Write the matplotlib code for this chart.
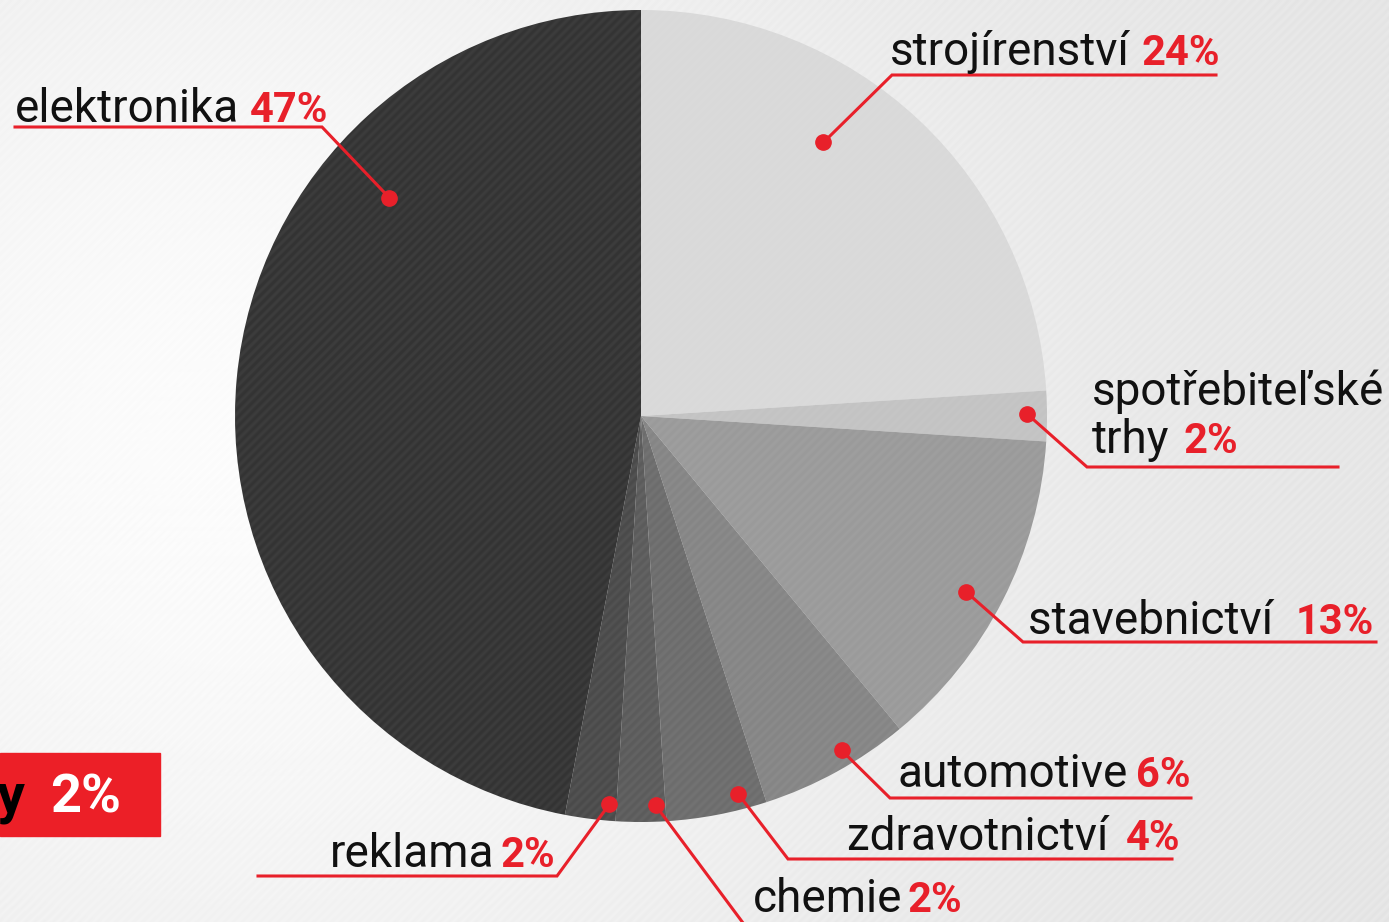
import numpy as np
import matplotlib
matplotlib.use('Agg')
import matplotlib.pyplot as plt
from matplotlib.patches import Rectangle

# Shares of the pie, in drawing order (clockwise from the top).
names = ['strojírenství', 'spotřebiteľské\ntrhy', 'stavebnictví ', 'automotive',
         'zdravotnictví ', 'chemie', 'reklama', 'elektronika']
shares = [24, 2, 13, 6, 4, 2, 2, 47]
pct_labels = ['24%', '2%', '13%', '6%', '4%', '2%', '2%', '47%']
greys = ['#d9d9d9', '#c3c3c3', '#9a9a9a', '#858585', '#6c6c6c', '#5b5b5b', '#4a4a4a', '#333333']

RED = '#e8202a'
FONT = 'Roboto'
FS = 33
FS_PCT = 30

W, H = 1389, 922
fig = plt.figure(figsize=(W / 100, H / 100), dpi=100)
ax = fig.add_axes([0, 0, 1, 1])

# Background: light grey with a soft light spot and fine diagonal stripes.
yy, xx = np.mgrid[0:H, 0:W]
glow = np.exp(-(((xx - 250) / 700.0) ** 2 + ((yy - 450) / 650.0) ** 2))
bg = 0.905 + 0.085 * glow
stripes = 0.5 + 0.5 * np.sin((xx + yy) * 2 * np.pi / 9.0)
bg = bg - 0.018 * stripes * (1 - 0.6 * glow)
ax.imshow(np.clip(bg, 0, 1), cmap='gray', vmin=0, vmax=1, extent=(0, W, H, 0), zorder=0)

# The pie (y axis is flipped, so counterclock in data = clockwise on screen).
cx, cy, R = 641, 416, 406
wedges, _ = ax.pie(shares, colors=greys, startangle=-90, counterclock=True,
                   center=(cx, cy), radius=R, frame=True,
                   wedgeprops=dict(linewidth=0, zorder=2))

# Stripe texture over the pie.
mask_img = np.zeros((H, W, 4))
mask_img[..., :3] = 1.0
mask_img[..., 3] = 0.05 * stripes
ov = ax.imshow(mask_img, extent=(0, W, H, 0), zorder=3)
circ = plt.Circle((cx, cy), R, transform=ax.transData)
ov.set_clip_path(circ)

# Dot placement inside each wedge (fraction along the wedge, fraction of radius).
dot_pos = [(0.39, 0.81), (0.45, 0.95), (0.53, 0.91), (0.40, 0.96),
           (0.25, 0.96), (0.20, 0.96), (0.15, 0.96), (0.71, 0.82)]
# Leader elbow, underline end, text left x, text baseline, percentage right x.
layout = [
    dict(elbow=(892, 75), end=1216, tx=890, ty=65, px=1220),
    dict(elbow=(1087, 467), end=1338, tx=1092, ty=453, px=1238),
    dict(elbow=(1023, 642), end=1376, tx=1028, ty=634, px=1374),
    dict(elbow=(890, 798), end=1191, tx=897, ty=787, px=1191),
    dict(elbow=(788, 859), end=1172, tx=847, ty=850, px=1180),
    dict(elbow=(752, 935), end=1000, tx=753, ty=912, px=962),
    dict(elbow=(557, 876), end=258, tx=330, ty=867, px=555),
    dict(elbow=(322, 127), end=15, tx=15, ty=122, px=328),
]

for w, (f, rr), lay, name, pct in zip(wedges, dot_pos, layout, names, pct_labels):
    ang = np.deg2rad(w.theta1 + f * (w.theta2 - w.theta1))
    dx = cx + rr * R * np.cos(ang)
    dy = cy + rr * R * np.sin(ang)
    ex, ey = lay['elbow']
    ax.plot([dx, ex, lay['end']], [dy, ey, ey], color=RED, lw=2.2,
            solid_joinstyle='miter', zorder=5)
    ax.plot(dx, dy, 'o', color=RED, ms=11, zorder=6)
    if '\n' in name:
        first, second = name.split('\n')
        ax.text(lay['tx'], lay['ty'] - 48, first, fontsize=FS, family=FONT,
                color='#111111', va='baseline', ha='left', zorder=6)
        ax.text(lay['tx'], lay['ty'], second, fontsize=FS, family=FONT,
                color='#111111', va='baseline', ha='left', zorder=6)
    else:
        ax.text(lay['tx'], lay['ty'], name, fontsize=FS, family=FONT,
                color='#111111', va='baseline', ha='left', zorder=6)
    ax.text(lay['px'], lay['ty'], pct, fontsize=FS_PCT, family=FONT, fontweight='bold',
            color=RED, va='baseline', ha='right', zorder=6)

# Cut-off red tag at the lower left (cut off in the original too).
ax.add_patch(Rectangle((0, 753), 160, 83, color='#ec1f27', zorder=6))
ax.text(-3, 812, 'y', fontsize=40, family=FONT, fontweight='bold',
        color='black', va='baseline', ha='left', zorder=7)
ax.text(50, 812, '2%', fontsize=39, family=FONT, fontweight='bold',
        color='white', va='baseline', ha='left', zorder=7)

ax.set_xlim(0, W)
ax.set_ylim(H, 0)
ax.set_aspect('auto')
ax.axis('off')

fig.savefig('out.png', dpi=100)
